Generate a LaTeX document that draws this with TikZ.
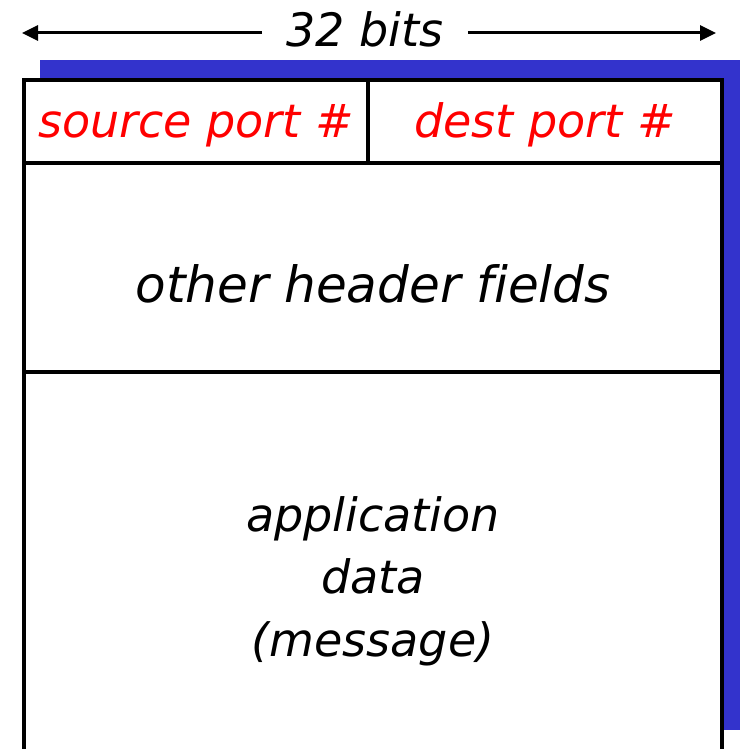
\documentclass[tikz,border=0pt]{standalone}
\usepackage{fontspec}
\setmainfont[Ligatures=NoCommon]{DejaVu Sans}
\usetikzlibrary{arrows.meta,positioning}
\definecolor{shadowblue}{RGB}{51,51,204}
\tikzset{
  cell/.style={draw, fill=white, line width=4pt, outer sep=0pt, inner sep=0pt, anchor=north west},
  field/.style={font=\fontsize{46}{62.5}\selectfont\itshape}
}

\begin{document}
\begin{tikzpicture}[x=1pt,y=-1pt]
    \useasboundingbox (0,0) rectangle (740,749);
    \clip (0,0) rectangle (740,749);
    \fill[shadowblue] (40,60) rectangle (740,730);

    \node[cell, field, text=red, text height=33pt, text depth=0pt, minimum width=344pt, minimum height=83pt] (src) at (24,80) {source port \#};
    \node[cell, field, text=red, text height=33pt, text depth=0pt, minimum width=354pt, minimum height=83pt] (dst) at (src.north east) {dest port \#};
    \node[cell, field, font=\fontsize{50}{60}\selectfont\itshape, text height=69pt, text depth=0pt, minimum width=698pt, minimum height=209pt] (hdr) at (src.south west) {other header fields};
    \node[cell, field, align=center, minimum width=698pt, minimum height=418pt] (data) at (hdr.south west) {application\\data\\(message)};

    \node[field, text height=28pt, text depth=0pt, inner xsep=24pt, inner ysep=0pt, anchor=base] (bits) at (365,47) {32 bits};
    \coordinate (lft) at (22,33);
    \coordinate (rgt) at (716,33);
    \draw[line width=3pt, -{Triangle[length=16pt,width=15pt]}] (bits.west) -- (lft);
    \draw[line width=3pt, -{Triangle[length=16pt,width=15pt]}] (bits.east) -- (rgt);
\end{tikzpicture}
\end{document}
